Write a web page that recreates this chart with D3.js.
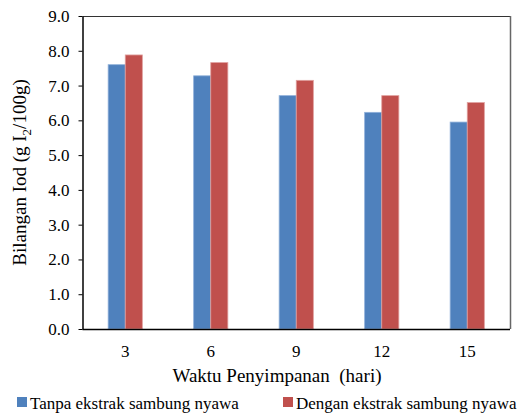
<!DOCTYPE html>
<html><head><meta charset="utf-8">
<script src="https://cdn.jsdelivr.net/npm/d3@7/dist/d3.min.js"></script>
<style>body{margin:0;background:#fff}svg{display:block}</style>
</head><body>
<svg id="c" width="532" height="414" style="font-family:'Liberation Serif','Times New Roman',serif"></svg>
<script>
const categories = ["3","6","9","12","15"];
const seriesNames = ["Tanpa ekstrak sambung nyawa","Dengan ekstrak sambung nyawa"];
const tanpa = [7.6, 7.28, 6.71, 6.23, 5.95];
const dengan = [7.88, 7.66, 7.15, 6.71, 6.51];
const yTicks = [0,1,2,3,4,5,6,7,8,9];
const colors = ["#4F81BD","#C0504D"];
const FONT = "Liberation Serif";

const svg = d3.select("#c");
const L = 82.5, R = 510, T = 16, B = 329;
const x = d3.scaleBand().domain(categories).range([L, R]).paddingInner(0.6).paddingOuter(0.3);
const xs = d3.scaleBand().domain([0,1]).range([0, x.bandwidth()]);
const y = d3.scaleLinear().domain([0,9]).range([B, T]);

svg.append("line").attr("x1",L).attr("x2",R).attr("y1",T+0.5).attr("y2",T+0.5).attr("stroke","#333").attr("stroke-width",1);
svg.append("line").attr("x1",R+0.5).attr("x2",R+0.5).attr("y1",T).attr("y2",B).attr("stroke","#666").attr("stroke-width",1.5);

const data = [tanpa, dengan];
data.forEach((vals, si) => {
  svg.append("g").selectAll("rect").data(vals).join("rect")
    .attr("x", (d,i) => x(categories[i]) + xs(si))
    .attr("y", d => y(d))
    .attr("width", xs.bandwidth())
    .attr("height", d => B - y(d))
    .attr("fill", colors[si])
    .attr("stroke", si===0 ? "#8fb0d9" : "#e0a09e")
    .attr("stroke-width", 0.8);
});

const ya = svg.append("g").attr("transform",`translate(${L},0)`)
  .call(d3.axisLeft(y).tickValues(yTicks).tickFormat(d3.format(".1f")).tickSize(4).tickSizeOuter(0));
ya.attr("font-family", FONT).attr("font-size", 17);
ya.select(".domain").attr("stroke","#000").attr("stroke-width",1.5);
ya.selectAll(".tick line").attr("stroke","#000");
ya.selectAll("text").style("font-family",FONT).attr("font-size",17).attr("dx","-6px").attr("fill","#000");

const xa = svg.append("g").attr("transform",`translate(0,${B})`)
  .call(d3.axisBottom(x).tickSize(0).tickSizeOuter(0));
xa.attr("font-family", FONT).attr("font-size", 17);
xa.select(".domain").attr("stroke","#000").attr("stroke-width",1.5).attr("d",`M${L},0.5H${R}`);
xa.selectAll("text").style("font-family",FONT).attr("font-size",17).attr("dy","1.45em").attr("fill","#000");

svg.append("text").attr("x",277).attr("y",382).attr("text-anchor","middle")
  .style("font-family",FONT).attr("font-size",19).text("Waktu Penyimpanan\u00a0\u00a0(hari)");
const yt = svg.append("text").attr("transform",`translate(26,${(T+B)/2}) rotate(-90)`).attr("text-anchor","middle")
  .style("font-family",FONT).attr("font-size",19);
yt.append("tspan").text("Bilangan Iod (g I");
yt.append("tspan").attr("font-size",13).attr("dy","5").text("2");
yt.append("tspan").attr("dy","-5").text("/100g)");

const lg = svg.append("g");
const legX = [17, 283];
seriesNames.forEach((n,i) => {
  lg.append("rect").attr("x",legX[i]).attr("y",397).attr("width",10).attr("height",10).attr("fill",colors[i]);
  lg.append("text").attr("x",legX[i]+13).attr("y",409).style("font-family",FONT).attr("font-size",17).text(n);
});
</script>
</body></html>
